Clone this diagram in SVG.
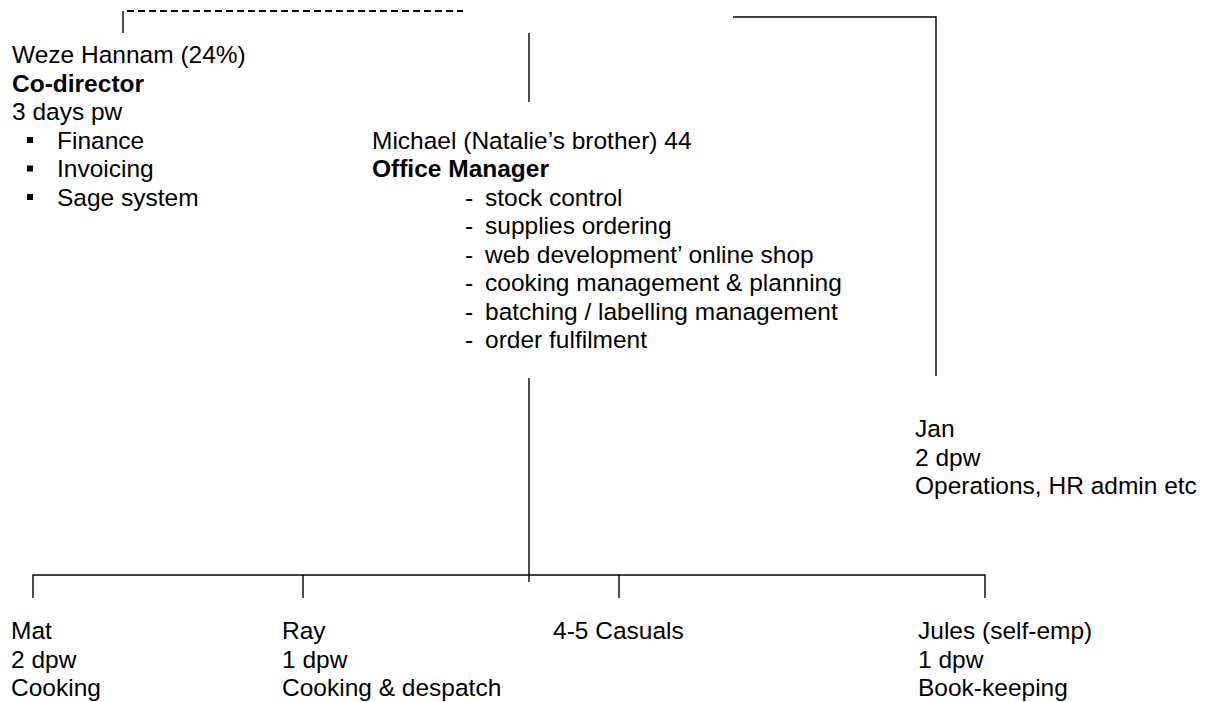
<svg xmlns="http://www.w3.org/2000/svg" width="1205" height="702" viewBox="0 0 1205 702">
<style>
text{font-family:"Liberation Sans",Arial,sans-serif;font-size:24.5px;fill:#000}
.b{font-weight:bold}
.ln{stroke:#000;stroke-width:1.4;fill:none}
.ds{stroke:#000;stroke-width:1.5;fill:none;stroke-dasharray:7 4;shape-rendering:crispEdges}
</style>
<rect width="1205" height="702" fill="#fff"/>
<g id="connectors">
<path class="ln" d="M123 11V33"/>
<path class="ds" d="M127 11H463"/>
<path class="ln" d="M529 33V102"/>
<path class="ln" d="M733 17H936V376"/>
<path class="ln" d="M529 378V582"/>
<path class="ln" d="M33 598V575H985V598"/>
<path class="ln" d="M303 575V598"/>
<path class="ln" d="M619 575V598"/>
</g>
<g id="weze">
<text x="12" y="63">Weze Hannam (24%)</text>
<text x="12" y="91.5" class="b">Co-director</text>
<text x="12" y="120">3 days pw</text>
<rect x="27" y="137" width="6" height="6"/>
<text x="57" y="148.5">Finance</text>
<rect x="27" y="165.5" width="6" height="6"/>
<text x="57" y="177">Invoicing</text>
<rect x="27" y="194" width="6" height="6"/>
<text x="57" y="205.5">Sage system</text>
</g>
<g id="michael">
<text x="372" y="148.5">Michael (Natalie’s brother) 44</text>
<text x="372" y="177" class="b">Office Manager</text>
<text x="465" y="205.5">-</text><text x="485" y="205.5">stock control</text>
<text x="465" y="234">-</text><text x="485" y="234">supplies ordering</text>
<text x="465" y="262.5">-</text><text x="485" y="262.5">web development’ online shop</text>
<text x="465" y="291">-</text><text x="485" y="291">cooking management &amp; planning</text>
<text x="465" y="319.5">-</text><text x="485" y="319.5">batching / labelling management</text>
<text x="465" y="348">-</text><text x="485" y="348">order fulfilment</text>
</g>
<g id="jan">
<text x="915" y="437">Jan</text>
<text x="915" y="465.5">2 dpw</text>
<text x="915" y="494">Operations, HR admin etc</text>
</g>
<g id="mat">
<text x="11" y="639">Mat</text>
<text x="11" y="667.5">2 dpw</text>
<text x="11" y="696">Cooking</text>
</g>
<g id="ray">
<text x="282" y="639">Ray</text>
<text x="282" y="667.5">1 dpw</text>
<text x="282" y="696">Cooking &amp; despatch</text>
</g>
<g id="casuals">
<text x="553" y="639">4-5 Casuals</text>
</g>
<g id="jules">
<text x="918" y="639">Jules (self-emp)</text>
<text x="918" y="667.5">1 dpw</text>
<text x="918" y="696">Book-keeping</text>
</g>
</svg>
